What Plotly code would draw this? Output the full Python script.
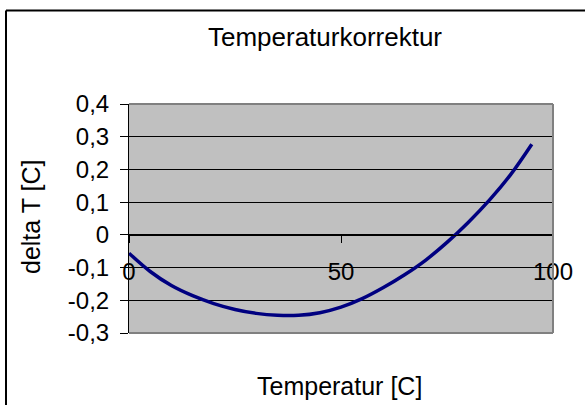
import plotly.graph_objects as go

temperature = [0, 5, 10, 15, 20, 25, 30, 35, 40, 45, 50, 55, 60, 65, 70, 75, 80, 85, 90, 95]
delta_t = [-0.056, -0.112, -0.155, -0.186, -0.210, -0.228, -0.240, -0.246, -0.246, -0.238,
           -0.221, -0.195, -0.161, -0.122, -0.077, -0.023, 0.038, 0.106, 0.184, 0.277]

y_tickvals = [-0.3, -0.2, -0.1, 0, 0.1, 0.2, 0.3, 0.4]
y_ticktext = ["-0,3", "-0,2", "-0,1", "0", "0,1", "0,2", "0,3", "0,4"]
x_tickvals = [0, 50, 100]
x_ticktext = ["0", "50", "100"]

title_text = "Temperaturkorrektur"
x_title = "Temperatur [C]"
y_title = "delta T [C]"

FONT = "Liberation Sans, Arial, sans-serif"
W, H = 585, 405
L, R, T, B = 129, 32, 104, 72
pw, ph = W - L - R, H - T - B

def px_to_paper_x(px):
    return (px - L) / pw

def px_to_paper_y(py):
    return (H - B - py) / ph

fig = go.Figure()
fig.add_trace(go.Scatter(
    x=temperature, y=delta_t, mode="lines",
    line=dict(color="#000080", width=3.5, shape="spline"),
    hoverinfo="skip", showlegend=False,
))

fig.update_layout(
    width=W, height=H,
    margin=dict(l=L, r=R, t=T, b=B, pad=0),
    paper_bgcolor="white",
    plot_bgcolor="#C0C0C0",
    font=dict(family=FONT, size=24, color="black"),
    title=dict(text=title_text, x=px_to_paper_x(325), xref="paper", xanchor="center",
               y=1 - 37 / H, yref="container", yanchor="middle",
               font=dict(family=FONT, size=26, color="black")),
    xaxis=dict(
        range=[0, 100], tickvals=x_tickvals, ticktext=x_ticktext,
        anchor="free", position=3 / 7,
        showline=True, linecolor="black", linewidth=1,
        ticks="outside", ticklen=7, tickcolor="black", tickwidth=1,
        showgrid=False, zeroline=False,
        ticklabelstandoff=8,
        tickfont=dict(family=FONT, size=24, color="black"),
    ),
    yaxis=dict(
        range=[-0.3, 0.4], tickvals=y_tickvals, ticktext=y_ticktext,
        showline=True, linecolor="black", linewidth=1,
        ticks="outside", ticklen=8, tickcolor="black", tickwidth=1,
        showgrid=True, gridcolor="black", gridwidth=1, zeroline=False,
        ticklabelstandoff=6,
        tickfont=dict(family=FONT, size=24, color="black"),
    ),
    annotations=[
        dict(text=x_title, xref="paper", yref="paper", x=px_to_paper_x(339), y=px_to_paper_y(386),
             xanchor="center", yanchor="middle", showarrow=False,
             font=dict(family=FONT, size=25, color="black")),
        dict(text=y_title, xref="paper", yref="paper", x=px_to_paper_x(31), y=px_to_paper_y(217),
             xanchor="center", yanchor="middle", showarrow=False, textangle=-90,
             font=dict(family=FONT, size=25, color="black")),
    ],
    shapes=[
        # plot area border (gray) top, right, bottom
        dict(type="line", xref="paper", yref="paper", x0=0, x1=1, y0=1, y1=1,
             line=dict(color="#808080", width=2), layer="above"),
        dict(type="line", xref="paper", yref="paper", x0=1, x1=1, y0=0, y1=1,
             line=dict(color="#808080", width=2), layer="above"),
        dict(type="line", xref="paper", yref="paper", x0=0, x1=1, y0=0, y1=0,
             line=dict(color="#808080", width=2), layer="above"),
        # chart outer border (black) top and left
        dict(type="line", xref="paper", yref="paper",
             x0=px_to_paper_x(6), x1=px_to_paper_x(W + 5), y0=px_to_paper_y(10.5), y1=px_to_paper_y(10.5),
             line=dict(color="black", width=2), layer="above"),
        dict(type="line", xref="paper", yref="paper",
             x0=px_to_paper_x(6), x1=px_to_paper_x(6), y0=px_to_paper_y(10.5), y1=px_to_paper_y(H + 5),
             line=dict(color="black", width=2), layer="above"),
    ],
)

fig.write_html("out.html", config={"displayModeBar": False},
               post_script="document.body.style.margin='0';document.body.style.overflow='hidden';")
